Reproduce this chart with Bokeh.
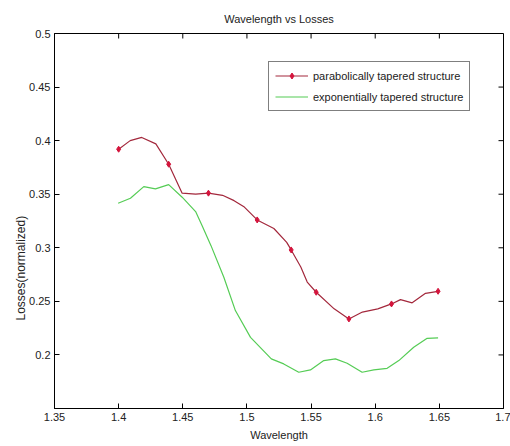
import math
from bokeh.plotting import figure
from bokeh.models import FixedTicker, Range1d, Title, Legend, LegendItem
from bokeh.embed import file_html
from bokeh.resources import INLINE

# ---- data ----
red_x = [1.400, 1.409, 1.418, 1.429, 1.439, 1.4495, 1.460, 1.470, 1.481, 1.490, 1.498,
         1.508, 1.521, 1.531, 1.5345, 1.542, 1.547, 1.554, 1.568, 1.5795, 1.590, 1.602,
         1.6127, 1.6197, 1.6288, 1.6392, 1.649]
red_y = [0.392, 0.400, 0.403, 0.397, 0.378, 0.351, 0.350, 0.351, 0.349, 0.344, 0.338,
         0.326, 0.318, 0.305, 0.298, 0.282, 0.268, 0.2585, 0.243, 0.2336, 0.240, 0.243,
         0.2476, 0.2516, 0.2486, 0.2575, 0.2594]
red_mark_x = [1.400, 1.439, 1.470, 1.508, 1.5345, 1.554, 1.5795, 1.6127, 1.649]
red_mark_y = [0.392, 0.378, 0.351, 0.326, 0.298, 0.2585, 0.2336, 0.2476, 0.2594]

green_x = [1.3996, 1.4092, 1.4196, 1.4287, 1.439, 1.4495, 1.460, 1.465, 1.472, 1.482,
           1.491, 1.5028, 1.519, 1.5287, 1.5404, 1.5495, 1.5599, 1.569, 1.5781, 1.5898,
           1.5989, 1.6093, 1.6184, 1.630, 1.6405, 1.649]
green_y = [0.3416, 0.3462, 0.3571, 0.355, 0.359, 0.3472, 0.3338, 0.3207, 0.302, 0.2725,
           0.2414, 0.2164, 0.1963, 0.1916, 0.1838, 0.186, 0.1947, 0.1963, 0.1922, 0.1838,
           0.186, 0.1875, 0.1947, 0.2071, 0.2155, 0.2159]

x_min, x_max = 1.35, 1.7
y_min, y_max = 0.15, 0.5
x_ticks = [1.35, 1.4, 1.45, 1.5, 1.55, 1.6, 1.65, 1.7]
x_tick_labels = ["1.35", "1.4", "1.45", "1.5", "1.55", "1.6", "1.65", "1.7"]
y_ticks = [0.2, 0.25, 0.3, 0.35, 0.4, 0.45, 0.5]
y_tick_labels = ["0.2", "0.25", "0.3", "0.35", "0.4", "0.45", "0.5"]

red_label = "parabolically tapered structure"
green_label = "exponentially tapered structure"

FONT = "Liberation Sans"
FS = "11px"
TXT = "#222222"
RED_LINE = "#a3283c"
RED_MARK = "#d4143c"
GREEN = "#55cc55"

p = figure(width=510, height=446, output_backend="svg", toolbar_location=None,
           x_range=Range1d(x_min, x_max), y_range=Range1d(y_min, y_max),
           min_border_left=54, min_border_right=7, min_border_top=33, min_border_bottom=38)

p.background_fill_color = "white"
p.border_fill_color = "white"
p.outline_line_color = "black"
p.xgrid.visible = False
p.ygrid.visible = False

p.title.text = "Wavelength vs Losses"
p.title.align = "center"
p.title.vertical_align = "middle"
p.title.text_font = FONT
p.title.text_font_size = FS
p.title.text_font_style = "normal"
p.title.text_color = TXT
p.title.standoff = 16


def style_axis(ax, ticks, labels):
    ax.ticker = FixedTicker(ticks=ticks)
    ax.major_label_overrides = {t: l for t, l in zip(ticks, labels)}
    ax.major_tick_in = 5
    ax.major_tick_out = 0
    ax.minor_tick_in = 0
    ax.minor_tick_out = 0
    ax.axis_line_color = "black"
    ax.major_tick_line_color = "black"
    ax.major_label_text_font = FONT
    ax.major_label_text_color = TXT
    ax.major_label_text_font_size = FS


style_axis(p.xaxis[0], x_ticks, x_tick_labels)
p.xaxis[0].major_label_standoff = 4
p.xaxis[0].axis_label = "Wavelength"
p.xaxis[0].axis_label_text_font = FONT
p.xaxis[0].axis_label_text_font_size = FS
p.xaxis[0].axis_label_text_font_style = "normal"
p.xaxis[0].axis_label_text_color = TXT
p.xaxis[0].axis_label_standoff = 5

style_axis(p.yaxis[0], y_ticks, y_tick_labels)
p.yaxis[0].major_label_standoff = 4

ylabel = Title(text="Losses(normalized)", align="left", offset=88, standoff=-3,
               text_font=FONT, text_font_size="12px", text_font_style="normal",
               text_color=TXT)
p.add_layout(ylabel, "left")

# inward ticks on the top and right edges of the box
p.ray(x=x_ticks, y=[y_max] * len(x_ticks), length=5, length_units="screen",
      angle=-math.pi / 2, line_color="black", line_width=1)
p.ray(x=[x_max] * len(y_ticks), y=y_ticks, length=5, length_units="screen",
      angle=math.pi, line_color="black", line_width=1)

r_line = p.line(red_x, red_y, line_color=RED_LINE, line_width=1.2)
r_mark = p.scatter(red_mark_x, red_mark_y, marker="diamond", size=6,
                   fill_color=RED_MARK, line_color=RED_MARK)
g_line = p.line(green_x, green_y, line_color=GREEN, line_width=1.2)

legend = Legend(items=[LegendItem(label=red_label, renderers=[r_line, r_mark]),
                       LegendItem(label=green_label, renderers=[g_line])],
                location=(214, 297))
legend.label_text_font = FONT
legend.label_text_font_size = FS
legend.label_text_color = TXT
legend.glyph_width = 33
legend.glyph_height = 15
legend.label_height = 15
legend.label_standoff = 5
legend.spacing = 6
legend.padding = 6
legend.margin = 0
legend.border_line_color = "black"
legend.border_line_width = 1
legend.background_fill_color = "white"
legend.background_fill_alpha = 1
p.add_layout(legend, "center")

open("out.html", "w").write(file_html(p, INLINE))
